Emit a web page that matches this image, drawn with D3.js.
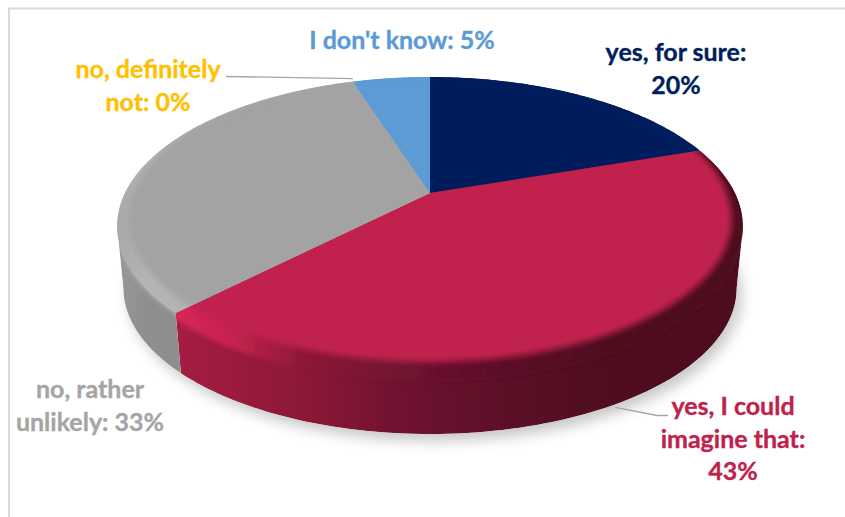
<!DOCTYPE html>
<html>
<head>
<meta charset="utf-8">
<script src="https://cdn.jsdelivr.net/npm/d3@7"></script>
<style>
  html, body { margin: 0; padding: 0; background: #fff; }
  svg { display: block; }
  text { font-family: Lato, "Open Sans", sans-serif; font-weight: 700; font-size: 25px; text-anchor: middle; stroke-width: 0.35px; }
</style>
</head>
<body>
<svg id="chart" width="845" height="517"></svg>
<script>
// Survey answers, clockwise from twelve o'clock.
const categories = ["yes, for sure", "yes, I could imagine that", "no, rather unlikely", "no, definitely not", "I don't know"];
const shares = [20, 43, 33, 0, 5];
const faceColors = ["#001f5c", "#c0214d", "#a3a3a3", "#ffc000", "#5b9bd5"];
const labelColors = ["#001f5c", "#c0214d", "#a5a5a5", "#ffc000", "#5b9bd5"];
const labelLines = [
  ["yes, for sure:", "20%"],
  ["yes, I could", "imagine that:", "43%"],
  ["no, rather", "unlikely: 33%"],
  ["no, definitely", "not: 0%"],
  ["I don't know: 5%"]
];
const labelCentres = [[676, 61], [733, 415], [90, 398], [148, 78], [402, 49]];
const lineStep = 32.5;

// Tilted-disc projection: a unit circle seen in perspective, with the
// lower rim of the wall slightly narrower and dropped below the top face.
const cx = 430, apexY = 193, midY = 226;
const radiusX = 305.2, radiusY = 141.7, foreshorten = 0.2215;
const wallDrop = 62, wallScale = 0.98;
function project(angle, r, lower) {
  const ux = r * Math.sin(angle), uy = -r * Math.cos(angle);
  const w = 1 - foreshorten * uy;
  const x = cx + radiusX * ux / w;
  const y = apexY + radiusY * uy / w;
  if (!lower) return [x, y];
  return [cx + (x - cx) * wallScale, midY + (y - midY) * wallScale + wallDrop];
}
const arcSamples = (a0, a1) => d3.range(0, 91).map(i => a0 + (a1 - a0) * i / 90);
const outline = d3.line().curve(d3.curveLinear);

// The wall is only seen between the two silhouette points of the ellipse.
const wallFrom = Math.acos(-foreshorten);
const wallTo = 2 * Math.PI - wallFrom;

const arcs = d3.pie().value(d => d).sort(null)(shares);
const svg = d3.select("#chart");
const defs = svg.append("defs");

function blurFilter(id, deviation) {
  defs.append("filter").attr("id", id).attr("x", "-10%").attr("y", "-20%").attr("width", "120%").attr("height", "140%")
    .append("feGaussianBlur").attr("stdDeviation", deviation);
}
blurFilter("soft", 3);
blurFilter("softer", 2.5);
blurFilter("shadowBlur", 7);

function sideGradient(id, stops) {
  const g = defs.append("linearGradient").attr("id", id)
    .attr("gradientUnits", "userSpaceOnUse")
    .attr("x1", cx - 313).attr("x2", cx + 313).attr("y1", 0).attr("y2", 0);
  stops.forEach(([o, c]) => g.append("stop").attr("offset", o).attr("stop-color", c));
}
const wallShades = [[0.3, "#8c1836"], [0.45, "#701230"], [0.62, "#5c1027"], [0.78, "#4f0d1f"], [1, "#4d0d1e"]];
sideGradient("wall1", [[0.1, "#a51c42"], ...wallShades]);
sideGradient("wall2", [[0, "#989898"], [0.05, "#8e8e8e"], [1, "#8c8c8c"]]);
sideGradient("rim1", [[0.08, "#d8265a"], [0.18, "#c82350"], ...wallShades]);
sideGradient("rim2", [[0, "#a8a8a8"], [0.05, "#b6b6b6"], [0.12, "#b2b2b2"], [1, "#b0b0b0"]]);

// Frame around the chart area.
svg.append("path").attr("d", "M845,8.5 H9 V517").attr("fill", "none").attr("stroke", "#d9d9d9").attr("stroke-width", 2);

// Ground shadow under the disc.
const shadowPts = arcSamples(0, 2 * Math.PI).map(a => {
  const [x, y] = project(a, 1.0, true);
  return [x + 5, y + 7];
});
svg.append("path").attr("d", outline(shadowPts) + "Z").attr("fill", "#000").attr("opacity", 0.22).attr("filter", "url(#shadowBlur)");

const wallFills = { 1: "url(#wall1)", 2: "url(#wall2)" };
const rimFills = { 1: "url(#rim1)", 2: "url(#rim2)" };
const rimShift = { 1: 7, 2: 1 };

// The flat colour reaches past the back edge and stops short of the front one.
const bevelRadius = a => 0.972 + (Math.cos(a) > 0 ? 0.06 : 0.028) * Math.cos(a);
const flatFace = arcSamples(0, 2 * Math.PI).map(a => project(a, bevelRadius(a), false));
const fullFace = arcSamples(0, 2 * Math.PI).map(a => project(a, 1, false));

const disc = svg.append("g");
arcs.forEach((d, i) => {
  if (d.endAngle <= d.startAngle) return;
  const top = arcSamples(d.startAngle, d.endAngle).map(a => project(a, 1, false));
  const sector = outline([project(0, 0, false)].concat(top)) + "Z";

  const clip = defs.append("clipPath").attr("id", "wedge" + i);
  clip.append("path").attr("d", sector);

  const wedge = disc.append("g").attr("clip-path", `url(#wedge${i})`);

  const from = Math.max(d.startAngle, wallFrom), to = Math.min(d.endAngle, wallTo);
  if (to > from) {
    const span = arcSamples(from, to);
    const wallPts = span.map(a => project(a, 1, false)).concat(span.map(a => project(a, 1, true)).reverse());
    const wall = outline(wallPts) + "Z";
    clip.append("path").attr("d", wall);
    wedge.append("path").attr("d", wall).attr("fill", wallFills[i] || faceColors[i]);
  }
  wedge.append("path").attr("d", sector).attr("fill", rimFills[i] || faceColors[i]);
  // Bevel and flat top feather into the wall below them.
  wedge.append("path").attr("d", outline(fullFace) + "Z")
    .attr("transform", `translate(0,${rimShift[i] || 0})`)
    .attr("fill", rimFills[i] || faceColors[i]).attr("filter", "url(#softer)");
  wedge.append("path").attr("d", outline(flatFace) + "Z")
    .attr("fill", faceColors[i]).attr("filter", "url(#soft)");
});

// Leader lines start on the wedge they belong to.
const leaderA = project(arcs[3].startAngle, 1, false);
const leaderB = project((arcs[1].startAngle + arcs[1].endAngle) / 2 + 0.035, 1, true);
const leaders = [
  [[226, 76.5], [leaderA[0], leaderA[1] - 3]],
  [[leaderB[0], leaderB[1] + 3], [657, 415.5], [668, 415.5]]
];
svg.selectAll("path.leader").data(leaders).join("path").attr("class", "leader")
  .attr("d", d => outline(d)).attr("fill", "none").attr("stroke", "#a6a6a6").attr("stroke-width", 1.3);

// Data labels.
const labels = svg.selectAll("text.lab").data(categories).join("text").attr("class", "lab")
  .attr("fill", (d, i) => labelColors[i]).attr("stroke", (d, i) => labelColors[i]);
labels.each(function (d, i) {
  d3.select(this).selectAll("tspan").data(labelLines[i]).join("tspan")
    .attr("x", labelCentres[i][0])
    .attr("y", (t, j) => labelCentres[i][1] + j * lineStep)
    .text(t => t);
});
</script>
</body>
</html>
